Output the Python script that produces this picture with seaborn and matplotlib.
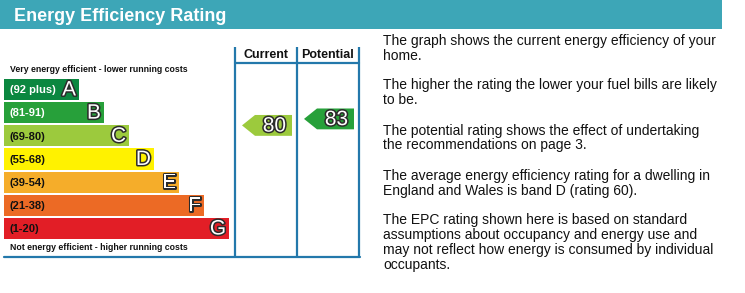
import matplotlib
matplotlib.use("Agg")
import matplotlib.pyplot as plt
import matplotlib.patheffects as pe
from matplotlib.patches import Rectangle, Polygon
import seaborn as sns
import pandas as pd

# ---- data ----
bands = ["A", "B", "C", "D", "E", "F", "G"]
ranges = ["(92 plus)", "(81-91)", "(69-80)", "(55-68)", "(39-54)", "(21-38)", "(1-20)"]
band_low = [92, 81, 69, 55, 39, 21, 1]
band_high = [100, 91, 80, 68, 54, 38, 20]
band_colors = ["#0b8740", "#27a03a", "#9cca3d", "#fff200", "#f5ad2a", "#ec6a25", "#e21e26"]
current_rating = 80
potential_rating = 83
title = "Energy Efficiency Rating"
col_labels = ["Current", "Potential"]
top_note = "Very energy efficient - lower running costs"
bottom_note = "Not energy efficient - higher running costs"
info_lines = [
    ["The graph shows the current energy efficiency of your", "home."],
    ["The higher the rating the lower your fuel bills are likely", "to be."],
    ["The potential rating shows the effect of undertaking", "the recommendations on page 3."],
    ["The average energy efficiency rating for a dwelling in", "England and Wales is band D (rating 60)."],
    ["The EPC rating shown here is based on standard",
     "assumptions about occupancy and energy use and",
     "may not reflect how energy is consumed by individual",
     "occupants."],
]

W, H = 745, 293
sns.set_theme(style="white")
plt.rcParams["font.family"] = ["Liberation Sans", "DejaVu Sans"]

fig = plt.figure(figsize=(W / 100, H / 100), dpi=100)
fig.patch.set_facecolor("white")

# overlay axes in pixel coordinates
ax0 = fig.add_axes([0, 0, 1, 1])
ax0.set_xlim(0, W)
ax0.set_ylim(H, 0)
ax0.axis("off")

teal = "#3da6b7"
frame = "#2378ab"
ax0.add_patch(Rectangle((0, 0), 722, 28.5, color=teal, lw=0))
ax0.text(14, 21, title, color="white", fontsize=13, fontweight="bold", va="baseline")

# frame lines
cols = [235, 297, 359]
for cx in cols:
    ax0.plot([cx, cx], [47, 257], color=frame, lw=1.6, solid_capstyle="butt")
ax0.plot([235, 359], [62.5, 62.5], color=frame, lw=1.6)
ax0.plot([4, 360], [257, 257], color=frame, lw=1.6)
for i, lab in enumerate(col_labels):
    ax0.text((cols[i] + cols[i + 1]) / 2, 58, lab, ha="center", va="baseline",
             fontsize=9, fontweight="bold", color="#111111")

ax0.text(10, 71.5, top_note, fontsize=6.3, fontweight="bold", va="baseline", color="#111111")
ax0.text(10, 250, bottom_note, fontsize=6.3, fontweight="bold", va="baseline", color="#111111")

# right-hand text
para_base = [45, 89, 134.5, 180, 224]
for p, lines in enumerate(info_lines):
    for j, ln in enumerate(lines):
        ax0.text(383, para_base[p] + 15 * j, ln, fontsize=10, va="baseline", color="#111111")

# bar axes: x data = pixel - 4, y categorical
top_px, pitch = 77.9, 23.17
axb = fig.add_axes([0, (H - top_px - 7 * pitch) / H, 1, 7 * pitch / H])
df = pd.DataFrame({"band": bands, "width": [75 + 25 * i for i in range(len(bands))]})
sns.barplot(data=df, x="width", y="band", hue="band", palette=band_colors, orient="h",
            width=0.92, saturation=1, legend=False, ax=axb, linewidth=0)
axb.set_xlim(-4, W - 4)
axb.set_ylim(6.5, -0.5)
axb.axis("off")
axb.patch.set_alpha(0)

outline = [pe.withStroke(linewidth=2.2, foreground="#2b2b2b")]
for i, b in enumerate(bands):
    w = 75 + 25 * i
    tc = "white" if i < 2 else "#111111"
    axb.text(6, i + 0.03, ranges[i], fontsize=8, fontweight="bold", color=tc, va="center")
    axb.text(w - 3, i + 0.02, b, fontsize=15, color="white", ha="right", va="center",
             path_effects=outline)


def rating_pos(r):
    for i in range(len(bands)):
        if band_low[i] <= r <= band_high[i]:
            f = (band_high[i] - r) / (band_high[i] - band_low[i])
            return i, i - 0.45 + f * 0.9
    return None


def draw_arrow(r, col_left, col_right):
    i, yc = rating_pos(r)
    x0, x1 = col_left + 7 - 4, col_right - 5 - 4
    tip = 13
    h = 0.45
    poly = Polygon([(x0, yc), (x0 + tip, yc - h), (x1, yc - h), (x1, yc + h), (x0 + tip, yc + h)],
                   closed=True, color=band_colors[i], lw=0)
    axb.add_patch(poly)
    axb.text((x0 + tip + x1) / 2 + 1, yc + 0.03, str(r), fontsize=15, color="white",
             ha="center", va="center", path_effects=outline)


draw_arrow(current_rating, cols[0], cols[1])
draw_arrow(potential_rating, cols[1], cols[2])

fig.savefig("out.png", dpi=100, facecolor="white")
